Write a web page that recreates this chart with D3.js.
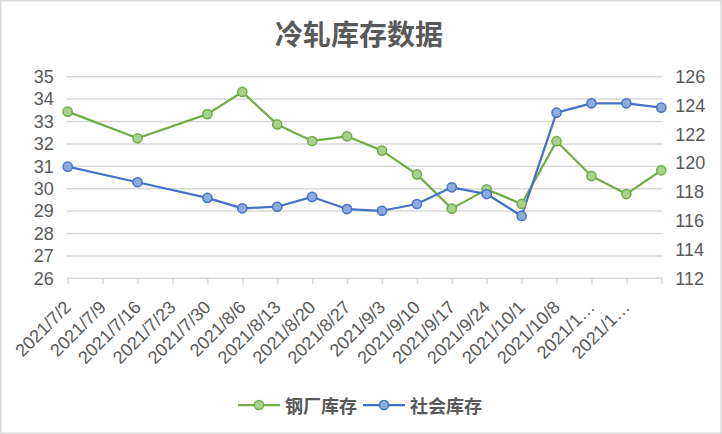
<!DOCTYPE html>
<html><head><meta charset="utf-8">
<script src="https://cdn.jsdelivr.net/npm/d3@7"></script>
<style>html,body{margin:0;padding:0;background:#fff;}</style>
</head><body>
<svg id="chart" width="722" height="434"></svg>
<script>
const title = "冷轧库存数据";
const categories = ["2021/7/2","2021/7/9","2021/7/16","2021/7/23","2021/7/30","2021/8/6","2021/8/13","2021/8/20","2021/8/27","2021/9/3","2021/9/10","2021/9/17","2021/9/24","2021/10/1","2021/10/8","2021/10/15","2021/10/22","2021/10/29"];
const tickLabels = ["2021/7/2","2021/7/9","2021/7/16","2021/7/23","2021/7/30","2021/8/6","2021/8/13","2021/8/20","2021/8/27","2021/9/3","2021/9/10","2021/9/17","2021/9/24","2021/10/1","2021/10/8","2021/1…","2021/1…",""];
const steelMill = [33.44,null,32.25,null,33.33,34.32,32.87,32.13,32.34,31.70,30.64,29.11,29.97,29.32,32.12,30.57,29.76,30.82];
const social = [119.75,null,118.67,null,117.58,116.86,116.97,117.65,116.81,116.69,117.16,118.32,117.85,116.33,123.5,124.15,124.15,123.85];
const leftTicks = [26,27,28,29,30,31,32,33,34,35];
const rightTicks = [112,114,116,118,120,122,124,126];
const seriesNames = ["钢厂库存","社会库存"];

const svg = d3.select("#chart");
const W = 722, H = 434;
const pTop = 76.7, pBottom = 278.3, pLeft = 66.7, pRight = 662.3;
const gray = "#595959", grid = "#d9d9d9";
const numFont = "'Liberation Sans', 'Noto Sans CJK SC', sans-serif";
const cjkFont = "'Noto Sans CJK SC', sans-serif";

svg.append("rect").attr("x",0.75).attr("y",0.75).attr("width",W-1.5).attr("height",H-1.5)
  .attr("fill","#fff").attr("stroke",grid).attr("stroke-width",1.5);

const x = d3.scalePoint().domain(categories).range([pLeft+1, pRight-1]);
const yL = d3.scaleLinear().domain([26,35]).range([pBottom, pTop]);
const yR = d3.scaleLinear().domain([112,126]).range([pBottom, pTop]);

// gridlines
svg.append("g").selectAll("line").data(leftTicks.slice(1)).join("line")
  .attr("x1",pLeft).attr("x2",pRight).attr("y1",d=>yL(d)).attr("y2",d=>yL(d))
  .attr("stroke",grid).attr("stroke-width",1.5);

// x axis
const xAxis = d3.axisBottom(x).tickSize(6).tickFormat((d,i)=>tickLabels[i]);
const gx = svg.append("g").attr("transform",`translate(0,${pBottom})`).call(xAxis);
gx.select(".domain").attr("d",`M${pLeft},0H${pRight}`).attr("stroke",grid).attr("stroke-width",1.5);
gx.selectAll(".tick line").attr("stroke",grid).attr("stroke-width",1.5);
gx.selectAll(".tick text")
  .attr("font-family",numFont).attr("font-size",18).attr("fill",gray)
  .attr("text-anchor","end").attr("dy",null).attr("y",null)
  .attr("transform","translate(4,30) rotate(-45)");

// left axis
const gl = svg.append("g").attr("transform",`translate(${pLeft},0)`)
  .call(d3.axisLeft(yL).tickValues(leftTicks).tickSize(0).tickPadding(13));
gl.select(".domain").remove();
gl.selectAll("text").attr("font-family",numFont).attr("font-size",18).attr("fill",gray);

// right axis
const gr = svg.append("g").attr("transform",`translate(${pRight},0)`)
  .call(d3.axisRight(yR).tickValues(rightTicks).tickSize(0).tickPadding(13));
gr.select(".domain").remove();
gr.selectAll("text").attr("font-family",numFont).attr("font-size",18).attr("fill",gray);

// series
const series = [
  {name: seriesNames[0], values: steelMill, y: yL, stroke:"#70ad47", fill:"#a9d18e"},
  {name: seriesNames[1], values: social, y: yR, stroke:"#4472c4", fill:"#8faadc"}
];
series.forEach(s=>{
  const pts = categories.map((c,i)=>({c, v:s.values[i]})).filter(d=>d.v!=null);
  svg.append("path").datum(pts)
    .attr("d", d3.line().x(d=>x(d.c)).y(d=>s.y(d.v)))
    .attr("fill","none").attr("stroke",s.stroke).attr("stroke-width",2.25).attr("stroke-linejoin","round");
});
series.forEach(s=>{
  const pts = categories.map((c,i)=>({c, v:s.values[i]})).filter(d=>d.v!=null);
  svg.append("g").selectAll("circle").data(pts).join("circle")
    .attr("cx",d=>x(d.c)).attr("cy",d=>s.y(d.v)).attr("r",4.6)
    .attr("fill",s.fill).attr("stroke",s.stroke).attr("stroke-width",1.5);
});

// title
svg.append("text").attr("x",359).attr("y",33).attr("text-anchor","middle")
  .attr("dominant-baseline","central").attr("font-family",cjkFont).attr("font-size",28)
  .attr("font-weight",700).attr("fill",gray).text(title);

// legend
const legendItems = [{lx:238, tx:285}, {lx:363, tx:410}];
series.forEach((s,i)=>{
  const g = svg.append("g");
  const ly = 405;
  g.append("line").attr("x1",legendItems[i].lx).attr("x2",legendItems[i].lx+42).attr("y1",ly).attr("y2",ly)
    .attr("stroke",s.stroke).attr("stroke-width",2.25);
  g.append("circle").attr("cx",legendItems[i].lx+21).attr("cy",ly).attr("r",4.6)
    .attr("fill",s.fill).attr("stroke",s.stroke).attr("stroke-width",1.5);
  g.append("text").attr("x",legendItems[i].tx).attr("y",ly).attr("dominant-baseline","central")
    .attr("font-family",cjkFont).attr("font-size",18).attr("font-weight",700).attr("fill",gray).text(s.name);
});
</script>
</body></html>
